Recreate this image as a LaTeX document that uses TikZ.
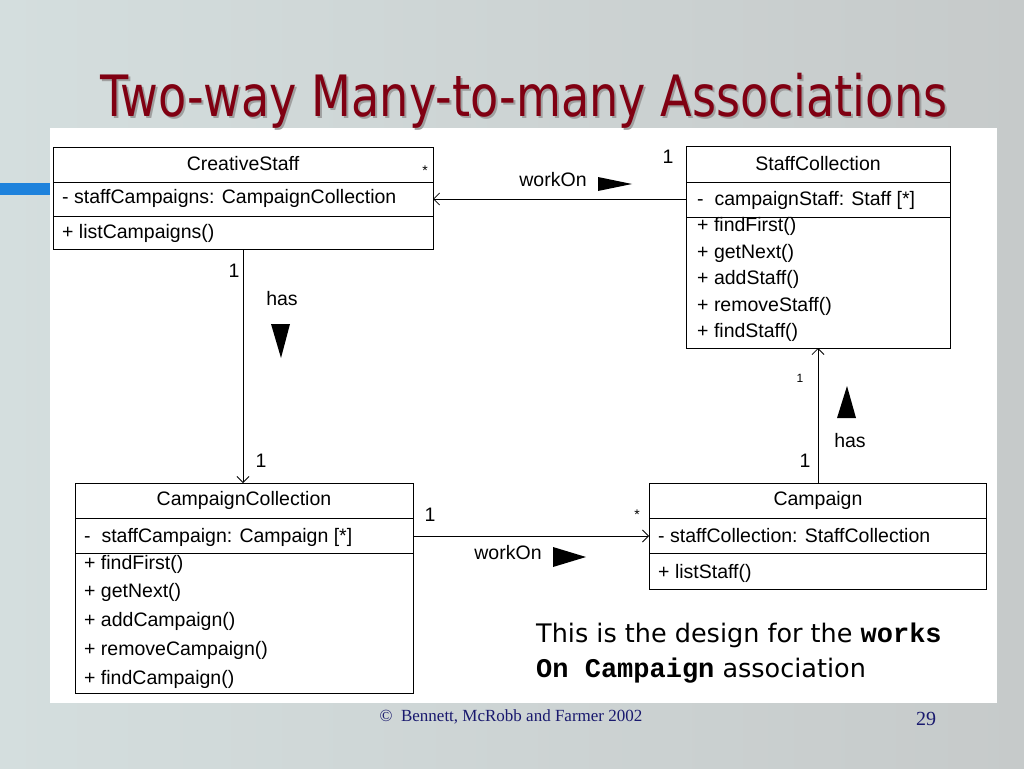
\documentclass[tikz,border=0pt]{standalone}
\usetikzlibrary{arrows.meta}
\usepackage{fontspec}
\setmainfont{Liberation Sans}
\newfontfamily\titlefont[FakeStretch=0.9]{DejaVu Sans Condensed}
\newfontfamily\notefont{DejaVu Sans}
\newfontfamily\monofont{Liberation Mono}
\newfontfamily\footfont{Liberation Serif}
\definecolor{bg}{RGB}{198,202,202}
\definecolor{bgl}{RGB}{212,222,222}
\definecolor{titlered}{RGB}{128,0,18}
\definecolor{barblue}{RGB}{30,130,220}
\definecolor{footblue}{RGB}{25,25,110}
\begin{document}
\begin{tikzpicture}[x=1pt,y=-1pt,
  lbl/.style={font=\fontsize{19.5}{22}\selectfont, inner sep=0pt},
  txt/.style={font=\fontsize{19.5}{22}\selectfont, inner sep=0pt, anchor=west},
  assoc/.style={draw=black, line width=0.8pt, -{Straight Barb[length=6pt,width=12pt]}},
  dir/.style={fill=black, draw=none}]
\useasboundingbox (0,0) rectangle (1024,768);
\shade[left color=bgl, right color=bg] (0,0) rectangle (1024,768);
% white panel
\fill[white] (50,128) rectangle (997,703);
% blue bar
\fill[barblue] (0,183) rectangle (50,195);
% title
\node[font=\titlefont\fontsize{57}{60}\selectfont, text=gray!75, inner sep=0pt] at (526,103) {Two-way Many-to-many Associations};
\node[font=\titlefont\fontsize{57}{60}\selectfont, text=titlered, inner sep=0pt] (title) at (524,101) {Two-way Many-to-many Associations};

% CreativeStaff
\draw[line width=0.8pt] (53,147) rectangle (433,249);
\draw[line width=0.8pt] (53,182) -- (433,182) (53,216) -- (433,216);
\coordinate (csL) at (53,199);
\coordinate (csR) at (433,199);
\coordinate (csB) at (243,249);
\node[lbl] (csname) at (243,164) {CreativeStaff};
\node[txt] (csattr) at (62,198) {- staffCampaigns: CampaignCollection};
\node[txt] (csop) at (62,233) {+ listCampaigns()};

% StaffCollection
\draw[line width=0.8pt] (686,146) rectangle (950,348);
\draw[line width=0.8pt] (686,182) -- (950,182) (686,217) -- (950,217);
\coordinate (scL) at (686,199);
\coordinate (scB) at (818,348);
\node[lbl] (scname) at (818,164) {StaffCollection};
\node[txt] (scattr) at (697,200) {-\ \ campaignStaff: Staff [*]};
\node[txt] (sc1) at (697,226) {+ findFirst()};
\node[txt] (sc2) at (697,253) {+ getNext()};
\node[txt] (sc3) at (697,279) {+ addStaff()};
\node[txt] (sc4) at (697,306) {+ removeStaff()};
\node[txt] (sc5) at (697,332) {+ findStaff()};

% CampaignCollection
\draw[line width=0.8pt] (75,483) rectangle (413,693);
\draw[line width=0.8pt] (75,518) -- (413,518) (75,553) -- (413,553);
\coordinate (ccT) at (243,483);
\coordinate (ccR) at (413,536);
\node[lbl] (ccname) at (244,500) {CampaignCollection};
\node[txt] (ccattr) at (84,537) {-\ \ staffCampaign: Campaign [*]};
\node[txt] (cc1) at (84,564) {+ findFirst()};
\node[txt] (cc2) at (84,592) {+ getNext()};
\node[txt] (cc3) at (84,621) {+ addCampaign()};
\node[txt] (cc4) at (84,650) {+ removeCampaign()};
\node[txt] (cc5) at (84,679) {+ findCampaign()};

% Campaign
\draw[line width=0.8pt] (649,483) rectangle (986,589);
\draw[line width=0.8pt] (649,518) -- (986,518) (649,553) -- (986,553);
\coordinate (caL) at (649,536);
\coordinate (caT) at (818,483);
\node[lbl] (caname) at (818,500) {Campaign};
\node[txt] (caattr) at (658,536) {- staffCollection: StaffCollection};
\node[txt] (caop) at (658,573) {+ listStaff()};

% connectors
\draw[assoc] (scL) -- (csR);
\draw[assoc] (csB) -- (ccT);
\draw[assoc] (ccR) -- (caL);
\draw[assoc] (caT) -- (scB);

% labels on connector 1
\node[lbl, font=\fontsize{14}{16}\selectfont] (m1) at (425,171) {*};
\node[lbl] (m2) at (668,157) {1};
\node[lbl] (w1) at (553,180) {workOn};
\fill[dir] (598,177) -- (632,184) -- (598,191) -- cycle;
% connector 2
\node[lbl] (m3) at (234,271) {1};
\node[lbl] (h1) at (282,299) {has};
\fill[dir] (271,324) -- (290,324) -- (281,358) -- cycle;
\node[lbl] (m4) at (261,461) {1};
% connector 3
\node[lbl] (m5) at (430,515) {1};
\node[lbl, font=\fontsize{14}{16}\selectfont] (m6) at (637,515) {*};
\node[lbl] (w2) at (508,553) {workOn};
\fill[dir] (553,547) -- (586,557) -- (553,567) -- cycle;
% connector 4
\node[lbl, font=\fontsize{12}{14}\selectfont] (m7) at (800,378) {1};
\node[lbl] (m8) at (805,461) {1};
\node[lbl] (h2) at (850,441) {has};
\fill[dir] (847,386) -- (856,418) -- (837,418) -- cycle;

% note
\node[anchor=base west, inner sep=0pt, font=\notefont\fontsize{25.5}{30}\selectfont] (n1) at (536,642) {This is the design for the \textbf{\monofont\fontsize{27}{30}\selectfont works}};
\node[anchor=base west, inner sep=0pt, font=\notefont\fontsize{25.5}{30}\selectfont] (n2) at (536,677) {\textbf{\monofont\fontsize{27}{30}\selectfont On Campaign} association};

% footer
\node[font=\footfont\fontsize{17}{19}\selectfont, text=footblue, inner sep=0pt] (foot) at (511,717) {\textcopyright\ \ Bennett, McRobb and Farmer 2002};
\node[font=\footfont\fontsize{20}{22}\selectfont, text=footblue, inner sep=0pt] (page) at (926,719) {29};
\end{tikzpicture}
\end{document}
